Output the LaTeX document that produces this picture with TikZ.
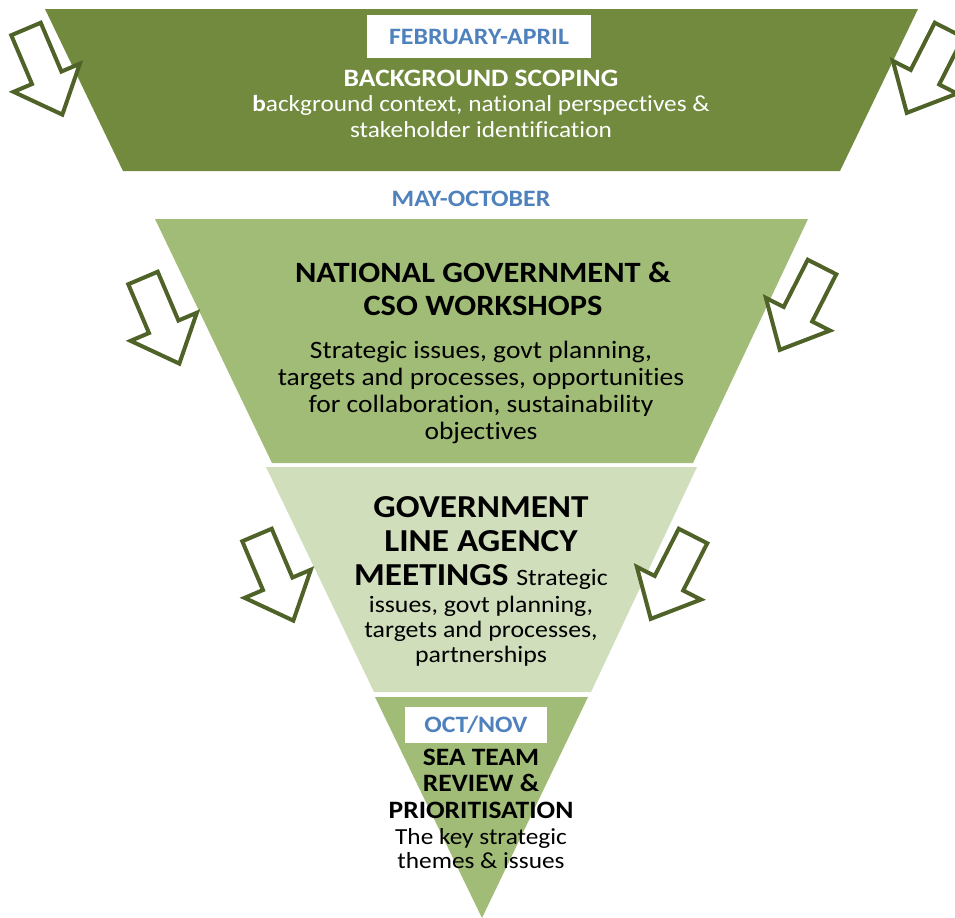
\documentclass[tikz,border=0pt]{standalone}
\usepackage{fontspec}
\setmainfont{Carlito}[FakeStretch=1.1, Ligatures=NoCommon]
\usetikzlibrary{positioning}

\definecolor{darkband}{RGB}{113,138,62}
\definecolor{midband}{RGB}{161,188,118}
\definecolor{paleband}{RGB}{208,222,188}
\definecolor{arrowline}{RGB}{79,98,40}
\definecolor{monthblue}{RGB}{79,129,189}

\newcommand{\fsize}[2]{\fontsize{#1bp}{#2bp}\selectfont}

\tikzset{
  pics/blockarrow/.style={code={
    \draw [arrowline, line width=4bp, fill=white, line join=miter]
      (-16,0) -- (16,0) -- (16,53) -- (36,53) -- (0,93) -- (-36,53) -- (-16,53) -- cycle;
  }},
  month/.style={font=\bfseries\fsize{23.5}{26}, text=monthblue, inner sep=0pt},
  title/.style={font=\bfseries\fsize{29.5}{33}, align=center, anchor=base, inner sep=0pt},
  body/.style={font=\fsize{25}{26.7}, align=center, anchor=base, inner sep=0pt}
}

\begin{document}
\begin{tikzpicture}[x=1bp, y=-1bp]
  \useasboundingbox (0,0) rectangle (955,918);

  % funnel bands
  \fill [darkband] (45,9) -- (918,9) -- (840,171) -- (123,171) -- cycle;
  \fill [midband] (155,219) -- (808,219) -- (693,463) -- (272,463) -- cycle;
  \fill [paleband] (266,467) -- (697,467) -- (591,692) -- (374,692) -- cycle;
  \fill [midband] (375,697) -- (588,697) -- (482,918) -- cycle;

  % arrows on both sides
  \pic [rotate=23] at (26,29) {blockarrow};
  \pic [rotate=-27] at (949,30) {blockarrow};
  \pic [rotate=23] at (143,278) {blockarrow};
  \pic [rotate=-27] at (822,267) {blockarrow};
  \pic [rotate=23] at (257,535) {blockarrow};
  \pic [rotate=-27] at (693,536) {blockarrow};

  % stage 1
  \node [month, fill=white, minimum width=224bp, minimum height=43bp] at (479,36.5) (feb) {FEBRUARY-APRIL};
  \node [body, text=white, font=\fsize{23}{25.5}] at (481,137) (scoping)
    {{\bfseries\fsize{25}{25.5}BACKGROUND SCOPING}\\\textbf{b}ackground context, national perspectives \&\\stakeholder identification};

  % stage 2
  \node [month, anchor=base] at (471,206) (may) {MAY-OCTOBER};
  \node [title] at (483,315) (natl) {NATIONAL GOVERNMENT \&\\CSO WORKSHOPS};
  \node [body] at (481,439) (natltext)
    {Strategic issues, govt planning,\\targets and processes, opportunities\\for collaboration, sustainability\\objectives};

  % stage 3
  \node [title, font=\bfseries\fsize{32}{34}] at (481,585) (line)
    {GOVERNMENT\\LINE AGENCY\\MEETINGS {\mdseries\fsize{23.5}{25}Strategic}};
  \node [body, font=\fsize{23.5}{25}] at (481,662) (linetext)
    {issues, govt planning,\\targets and processes,\\partnerships};

  % stage 4
  \node [month, fill=white, minimum width=142bp, minimum height=36bp] at (476,725) (oct) {OCT/NOV};
  \node [title, font=\bfseries\fsize{25}{26.5}] at (481,818) (sea) {SEA TEAM\\REVIEW \&\\PRIORITISATION};
  \node [body, font=\fsize{23}{23.5}] at (481,868) (seatext) {The key strategic\\themes \& issues};
\end{tikzpicture}
\end{document}
